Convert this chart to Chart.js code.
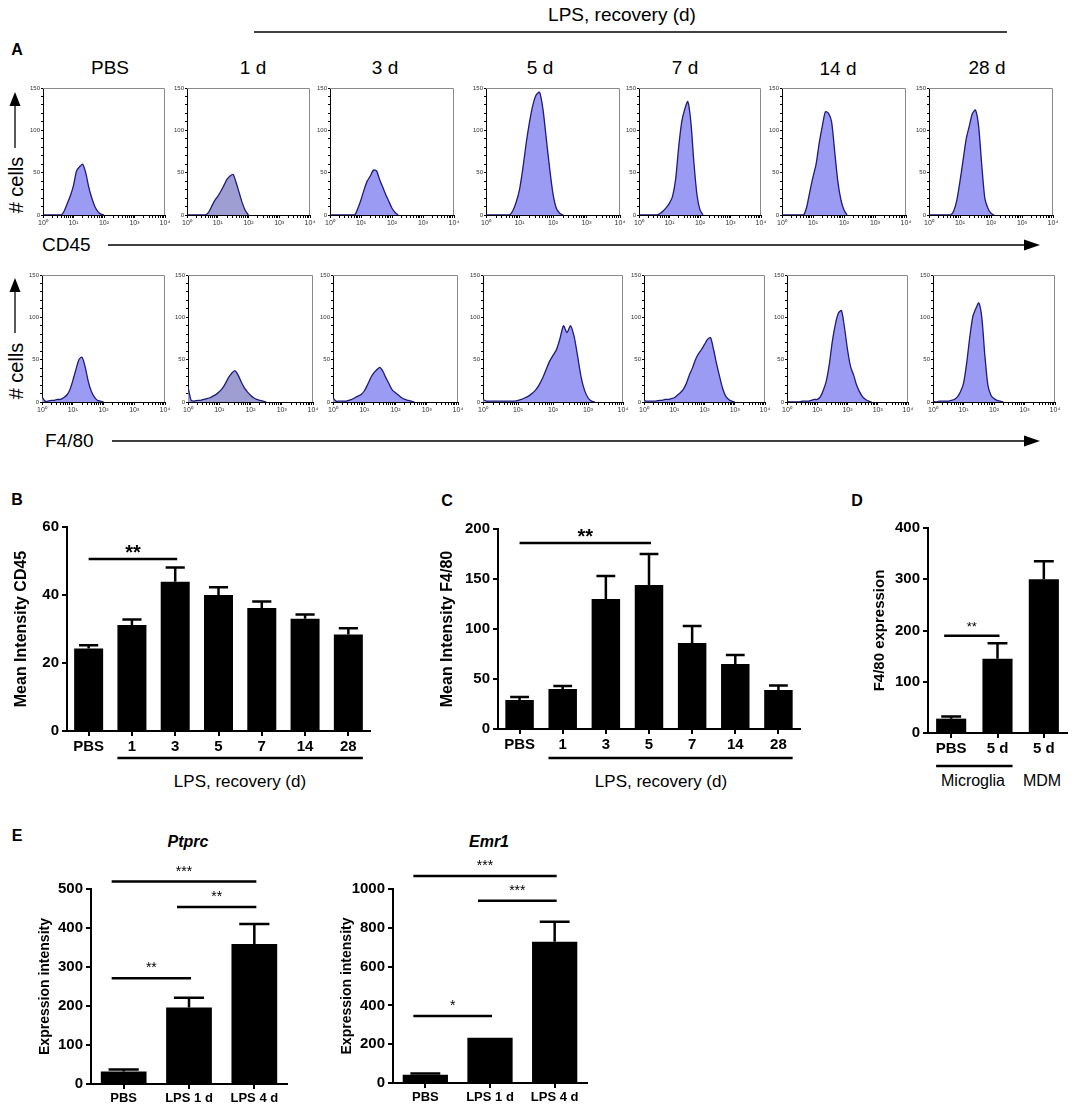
<!DOCTYPE html>
<html>
<head>
<meta charset="utf-8">
<script src="https://cdn.jsdelivr.net/npm/chart.js@4.4.1/dist/chart.umd.min.js"></script>
<style>
body{margin:0;background:#fff;}
#fig{position:relative;width:1084px;height:1107px;overflow:hidden;font-family:"Liberation Sans",Arial,sans-serif;color:#000;background:#fff;}
#fig canvas{position:absolute;}
#fig svg{position:absolute;left:0;top:0;}
.t{position:absolute;white-space:nowrap;transform:translate(-50%,-50%);line-height:1;font-weight:normal;}
.l{position:absolute;white-space:nowrap;transform:translate(0,-50%);line-height:1;}
.r{position:absolute;white-space:nowrap;transform:translate(-50%,-50%) rotate(-90deg);line-height:1;}
.b{font-weight:bold;}
</style>
</head>
<body>
<div id="fig">
<svg width="1084" height="1107">
  <line x1="254" y1="32" x2="1007" y2="32" stroke="#000" stroke-width="1.3"/>
  <line x1="108" y1="245" x2="1026" y2="245" stroke="#000" stroke-width="1.3"/>
  <polygon points="1024,239.5 1040,245 1024,250.5" fill="#000"/>
  <line x1="112" y1="441" x2="1026" y2="441" stroke="#000" stroke-width="1.3"/>
  <polygon points="1024,435.5 1040,441 1024,446.5" fill="#000"/>
  <line x1="15" y1="148" x2="15" y2="104" stroke="#000" stroke-width="1.3"/>
  <polygon points="9.5,106 15,92 20.5,106" fill="#000"/>
  <line x1="15" y1="333" x2="15" y2="290" stroke="#000" stroke-width="1.3"/>
  <polygon points="9.5,292 15,278 20.5,292" fill="#000"/>
</svg>

<div class="t" style="left:622px;top:14px;font-size:19px;">LPS, recovery (d)</div>
<div class="t b" style="left:17px;top:50px;font-size:16px;">A</div>
<div class="t" style="left:110px;top:67px;font-size:19px;">PBS</div>
<div class="t" style="left:253px;top:67px;font-size:19px;">1 d</div>
<div class="t" style="left:385px;top:67px;font-size:19px;">3 d</div>
<div class="t" style="left:540px;top:67px;font-size:19px;">5 d</div>
<div class="t" style="left:685px;top:67px;font-size:19px;">7 d</div>
<div class="t" style="left:838px;top:68px;font-size:19px;">14 d</div>
<div class="t" style="left:987px;top:67px;font-size:19px;">28 d</div>
<div class="r" style="left:16px;top:185px;font-size:20px;"># cells</div>
<div class="r" style="left:16px;top:371px;font-size:20px;"># cells</div>
<div class="l" style="left:42px;top:244px;font-size:19px;">CD45</div>
<div class="l" style="left:45px;top:440px;font-size:19px;">F4/80</div>

<div class="t b" style="left:17px;top:500px;font-size:16px;">B</div>
<div class="t b" style="left:447px;top:501px;font-size:16px;">C</div>
<div class="t b" style="left:857px;top:501px;font-size:16px;">D</div>
<div class="t b" style="left:17px;top:836px;font-size:16px;">E</div>
<div class="t" style="left:240px;top:781px;font-size:17px;">LPS, recovery (d)</div>
<div class="t" style="left:661px;top:781px;font-size:17px;">LPS, recovery (d)</div>
<div class="t" style="left:973px;top:781px;font-size:16px;">Microglia</div>
<div class="t" style="left:1042px;top:781px;font-size:16px;">MDM</div>
<div class="t b" style="left:188px;top:842px;font-size:16px;font-style:italic;">Ptprc</div>
<div class="t b" style="left:489px;top:842px;font-size:16px;font-style:italic;">Emr1</div>

<canvas id="h0"></canvas><canvas id="h1"></canvas><canvas id="h2"></canvas><canvas id="h3"></canvas>
<canvas id="h4"></canvas><canvas id="h5"></canvas><canvas id="h6"></canvas>
<canvas id="h7"></canvas><canvas id="h8"></canvas><canvas id="h9"></canvas><canvas id="h10"></canvas>
<canvas id="h11"></canvas><canvas id="h12"></canvas><canvas id="h13"></canvas>
<canvas id="cB"></canvas><canvas id="cC"></canvas><canvas id="cD"></canvas>
<canvas id="cE1"></canvas><canvas id="cE2"></canvas>
</div>

<script>
// ---- histogram data (x in decades of fluorescence, 10^0 .. 10^4) ----
const logBins = [0,0.1,0.2,0.3,0.4,0.5,0.6,0.7,0.8,0.9,1.0,1.1,1.2,1.3,1.4,1.5,1.6,1.7,1.8,1.9,
  2.0,2.1,2.2,2.3,2.4,2.5,2.6,2.7,2.8,2.9,3.0,3.1,3.2,3.3,3.4,3.5,3.6,3.7,3.8,3.9,4.0];

const cd45Pbs = [0,0,0,0,0,0,0,5,14,23,35,52,57,60,50,33,20,10,4,1,0];
const cd45D1  = [0,0,0,0,0,0,0,3,10,17,22,28,35,42,46,48,38,26,14,5,0];
const cd45D3  = [0,0,0,0,0,0,0,0,0,8,18,30,40,46,53,52,42,33,24,16,8,3,0];
const cd45D5  = [0,0,0,0,0,0,0,0,5,15,30,55,85,110,130,142,145,125,90,55,25,8,2,0];
const cd45D7  = [0,0,0,0,0,0,0,2,5,9,14,22,42,80,110,125,134,110,62,24,6,0];
const cd45D14 = [0,0,0,0,0,0,0,0,10,28,45,60,85,105,122,120,110,75,40,18,6,0];
const cd45D28 = [0,0,0,0,0,0,0,0,5,18,40,65,90,105,120,124,105,60,20,8,2,0];

const f480Pbs = [6,1,1,2,2,3,3,5,8,14,25,38,50,53,42,25,13,6,2,1,0];
const f480D1  = [18,2,1,2,2,3,4,5,7,9,12,16,22,29,34,37,32,24,17,12,8,5,3,2,1,0];
const f480D3  = [5,1,1,1,1,2,3,5,7,9,13,20,28,34,38,41,36,28,21,14,11,8,5,3,2,1,0];
const f480D5  = [3,1,1,1,1,1,1,1,1,1,2,3,5,7,10,14,20,28,38,48,55,62,75,90,82,90,78,55,30,14,5,1,0];
const f480D7  = [2,1,1,1,1,2,2,3,3,4,5,8,11,15,22,32,40,50,57,62,68,74,76,62,45,30,16,7,3,1,0];
const f480D14 = [1,0,0,0,0,1,1,1,2,3,3,6,14,25,45,72,92,105,108,88,62,42,32,20,12,6,3,1,0];
const f480D28 = [1,0,1,1,1,1,2,3,6,12,22,45,75,100,110,117,100,55,20,8,4,2,1,0];

const cd45Row = [cd45Pbs, cd45D1, cd45D3, cd45D5, cd45D7, cd45D14, cd45D28];
const f480Row = [f480Pbs, f480D1, f480D3, f480D5, f480D7, f480D14, f480D28];

// ---- bar chart data ----
const bLabels = ['PBS','1','3','5','7','14','28'];
const bValues = [24.3, 31.2, 43.9, 40.0, 36.2, 33.0, 28.4];
const bSem    = [0.9, 1.6, 4.2, 2.3, 1.9, 1.3, 1.8];

const cLabels = ['PBS','1','3','5','7','14','28'];
const cValues = [29, 40, 130, 144, 86, 65, 39];
const cSem    = [3, 3, 23, 31, 17, 9, 4.5];

const dLabels = ['PBS','5 d','5 d'];
const dValues = [28, 145, 300];
const dSem    = [4, 30, 35];

const eLabels = ['PBS','LPS 1 d','LPS 4 d'];
const ptprcValues = [32, 196, 359];
const ptprcSem    = [5, 25, 51];
const emr1Values  = [42, 233, 728];
const emr1Sem     = [7, 0, 103];

Chart.defaults.font.family = '"Liberation Sans", Arial, sans-serif';

const sup = ['\u2070','\u00b9','\u00b2','\u00b3','\u2074'];
const logTicks = [];
for (let d = 0; d <= 4; d++) {
  logTicks.push(d);
  if (d < 4) for (let k = 2; k <= 9; k++) logTicks.push(d + Math.log10(k));
}

const framePlugin = {
  id: 'frame',
  afterDraw(chart) {
    const {ctx, chartArea: a} = chart;
    ctx.save();
    ctx.strokeStyle = '#8a8a8a';
    ctx.lineWidth = 1;
    ctx.beginPath();
    ctx.moveTo(a.left, a.top + 0.5); ctx.lineTo(a.right - 0.5, a.top + 0.5); ctx.lineTo(a.right - 0.5, a.bottom);
    ctx.stroke();
    ctx.restore();
  }
};

function makeHist(id, L, R, T, B, counts, fill) {
  const cv = document.getElementById(id);
  const padT = 6, padR = 7, yW = 16, xH = 16;
  cv.width = R - L + yW + padR;
  cv.height = B - T + padT + xH;
  cv.style.left = (L - yW) + 'px';
  cv.style.top = (T - padT) + 'px';
  new Chart(cv, {
    type: 'line',
    data: {datasets: [{
      data: counts.map((c, i) => ({x: logBins[i], y: c})),
      fill: 'origin', backgroundColor: fill, borderColor: '#1c1c7a',
      borderWidth: 1.3, pointRadius: 0, tension: 0.25
    }]},
    options: {
      responsive: false, animation: false, events: [],
      layout: {padding: {top: padT, right: padR, left: 0, bottom: 0}},
      plugins: {legend: {display: false}, tooltip: {enabled: false}},
      scales: {
        x: {
          type: 'linear', min: 0, max: 4,
          afterBuildTicks(s) { s.ticks = logTicks.map(v => ({value: v})); },
          afterFit(s) { s.height = xH; },
          ticks: {autoSkip: false, maxRotation: 0, padding: 1, font: {size: 7}, color: '#333',
            callback: v => Number.isInteger(v) ? '10' + sup[v] : ''},
          grid: {drawOnChartArea: false, tickLength: 3, color: '#000'},
          border: {color: '#000'}
        },
        y: {
          min: 0, max: 150,
          afterFit(s) { s.width = yW; },
          ticks: {stepSize: 10, autoSkip: false, padding: 1, font: {size: 6}, color: '#333',
            callback: v => v % 50 === 0 ? v : ''},
          grid: {drawOnChartArea: false, tickLength: 2, color: '#000'},
          border: {color: '#000'}
        }
      }
    },
    plugins: [framePlugin]
  });
}

const row1Boxes = [[43,165],[187,310],[330,454],[486,620],[639,761],[782,906],[929,1053]];
const row2Boxes = [[42,165],[188,313],[333,458],[483,623],[644,765],[787,908],[933,1055]];
const fillBlue = '#9b9bf3', fillGrey = '#9e9ed3';
cd45Row.forEach((c, i) => makeHist('h' + i, row1Boxes[i][0], row1Boxes[i][1], 88, 215, c, i === 1 ? fillGrey : fillBlue));
f480Row.forEach((c, i) => makeHist('h' + (i + 7), row2Boxes[i][0], row2Boxes[i][1], 275, 402, c, i === 1 ? fillGrey : fillBlue));

// error bars, significance lines and group underline
const sigPlugin = {
  id: 'sig',
  afterDatasetsDraw(chart, args, o) {
    const {ctx} = chart;
    const y = chart.scales.y;
    const meta = chart.getDatasetMeta(0);
    const vals = chart.data.datasets[0].data;
    ctx.save();
    ctx.strokeStyle = '#000';
    ctx.fillStyle = '#000';
    ctx.lineWidth = 2.5;
    (o.sem || []).forEach((s, i) => {
      if (!s) return;
      const bar = meta.data[i];
      const top = y.getPixelForValue(vals[i] + s);
      const cap = bar.width * 0.33;
      ctx.beginPath();
      ctx.moveTo(bar.x, bar.y); ctx.lineTo(bar.x, top);
      ctx.moveTo(bar.x - cap, top); ctx.lineTo(bar.x + cap, top);
      ctx.stroke();
    });
    (o.marks || []).forEach(m => {
      const py = y.getPixelForValue(m.y);
      const x1 = meta.data[m.from].x - (o.ext || 0), x2 = meta.data[m.to].x + 2;
      ctx.beginPath(); ctx.moveTo(x1, py); ctx.lineTo(x2, py); ctx.stroke();
      ctx.font = o.starFont;
      ctx.textAlign = 'center';
      ctx.textBaseline = 'alphabetic';
      ctx.fillText(m.label, (x1 + x2) / 2, py - o.starGap);
    });
    if (o.group) {
      const a = meta.data[o.group.from], b = meta.data[o.group.to];
      const gy = chart.chartArea.bottom + o.group.dy;
      ctx.beginPath(); ctx.moveTo(a.x - a.width / 2, gy); ctx.lineTo(b.x + b.width / 2, gy); ctx.stroke();
    }
    ctx.restore();
  }
};

function makeBar(id, box, area, cfg) {
  const cv = document.getElementById(id);
  cv.width = box.w; cv.height = box.h;
  cv.style.left = box.x + 'px'; cv.style.top = box.y + 'px';
  const yW = area.l - box.x, xH = box.y + box.h - area.b;
  const lh = cfg.titleSize * 1.2;
  new Chart(cv, {
    type: 'bar',
    data: {labels: cfg.labels, datasets: [{data: cfg.values, backgroundColor: '#000',
      barPercentage: cfg.barPct, categoryPercentage: 1}]},
    options: {
      responsive: false, animation: false, events: [],
      layout: {padding: {top: area.t - box.y, right: box.x + box.w - area.r, left: 0, bottom: 0}},
      plugins: {legend: {display: false}, tooltip: {enabled: false},
        sig: {sem: cfg.sem, marks: cfg.marks, group: cfg.group, starFont: cfg.starFont, starGap: cfg.starGap, ext: cfg.ext}},
      scales: {
        x: {
          afterFit(s) { s.height = xH; },
          grid: {offset: false, drawOnChartArea: false, tickLength: 5, color: '#000', lineWidth: 2},
          border: {color: '#000', width: 2},
          ticks: {color: '#000', font: {size: cfg.xTickSize, weight: 'bold'}, padding: 2, autoSkip: false, maxRotation: 0}
        },
        y: {
          min: 0, max: cfg.max,
          afterFit(s) { s.width = yW; },
          ticks: {stepSize: cfg.step, color: '#000', font: {size: cfg.yTickSize, weight: 'bold'}, padding: 3,
            callback: v => String(v)},
          grid: {drawOnChartArea: false, tickLength: 5, color: '#000', lineWidth: 2},
          border: {color: '#000', width: 2},
          title: {display: true, text: cfg.yTitle, color: '#000',
            font: {size: cfg.titleSize, weight: 'bold'},
            padding: {top: cfg.titleX - box.x - lh / 2, bottom: 0}}
        }
      }
    },
    plugins: [sigPlugin]
  });
}

makeBar('cB', {x: 0, y: 480, w: 380, h: 320}, {l: 67, t: 527, r: 370, b: 731}, {
  labels: bLabels, values: bValues, sem: bSem, max: 60, step: 20, barPct: 0.67,
  yTitle: 'Mean Intensity CD45', titleSize: 16, titleX: 22, xTickSize: 15, yTickSize: 15,
  marks: [{from: 0, to: 2, y: 50.6, label: '**'}], starFont: 'bold 20px "Liberation Sans"', starGap: 0,
  group: {from: 1, to: 6, dy: 27}
});
makeBar('cC', {x: 400, y: 480, w: 410, h: 320}, {l: 498, t: 529, r: 800, b: 729}, {
  labels: cLabels, values: cValues, sem: cSem, max: 200, step: 50, barPct: 0.66,
  yTitle: 'Mean Intensity F4/80', titleSize: 16, titleX: 448, xTickSize: 15, yTickSize: 15,
  marks: [{from: 0, to: 3, y: 186, label: '**'}], starFont: 'bold 20px "Liberation Sans"', starGap: 0,
  group: {from: 1, to: 6, dy: 29}
});
makeBar('cD', {x: 840, y: 480, w: 240, h: 320}, {l: 928, t: 528, r: 1067, b: 733}, {
  labels: dLabels, values: dValues, sem: dSem, max: 400, step: 100, barPct: 0.65,
  yTitle: 'F4/80 expression', titleSize: 15, titleX: 880, xTickSize: 15, yTickSize: 15,
  marks: [{from: 0, to: 1, y: 190, label: '**'}], starFont: '13px "Liberation Sans"', starGap: 5, ext: 7,
  group: {from: 0, to: 1, dy: 33}
});
makeBar('cE1', {x: 0, y: 830, w: 300, h: 277}, {l: 91, t: 889, r: 287, b: 1084}, {
  labels: eLabels, values: ptprcValues, sem: ptprcSem, max: 500, step: 100, barPct: 0.7,
  yTitle: 'Expression intensity', titleSize: 14, titleX: 45, xTickSize: 13, yTickSize: 15,
  marks: [{from: 0, to: 2, y: 519, label: '***'}, {from: 1, to: 2, y: 454, label: '**'}, {from: 0, to: 1, y: 271, label: '**'}],
  starFont: '14px "Liberation Sans"', starGap: 6, ext: 12
});
makeBar('cE2', {x: 300, y: 830, w: 300, h: 277}, {l: 393, t: 889, r: 587, b: 1083}, {
  labels: eLabels, values: emr1Values, sem: emr1Sem, max: 1000, step: 200, barPct: 0.7,
  yTitle: 'Expression intensity', titleSize: 14, titleX: 347, xTickSize: 13, yTickSize: 15,
  marks: [{from: 0, to: 2, y: 1067, label: '***'}, {from: 1, to: 2, y: 940, label: '***'}, {from: 0, to: 1, y: 345, label: '*'}],
  starFont: '14px "Liberation Sans"', starGap: 6, ext: 12
});
</script>
</body>
</html>
